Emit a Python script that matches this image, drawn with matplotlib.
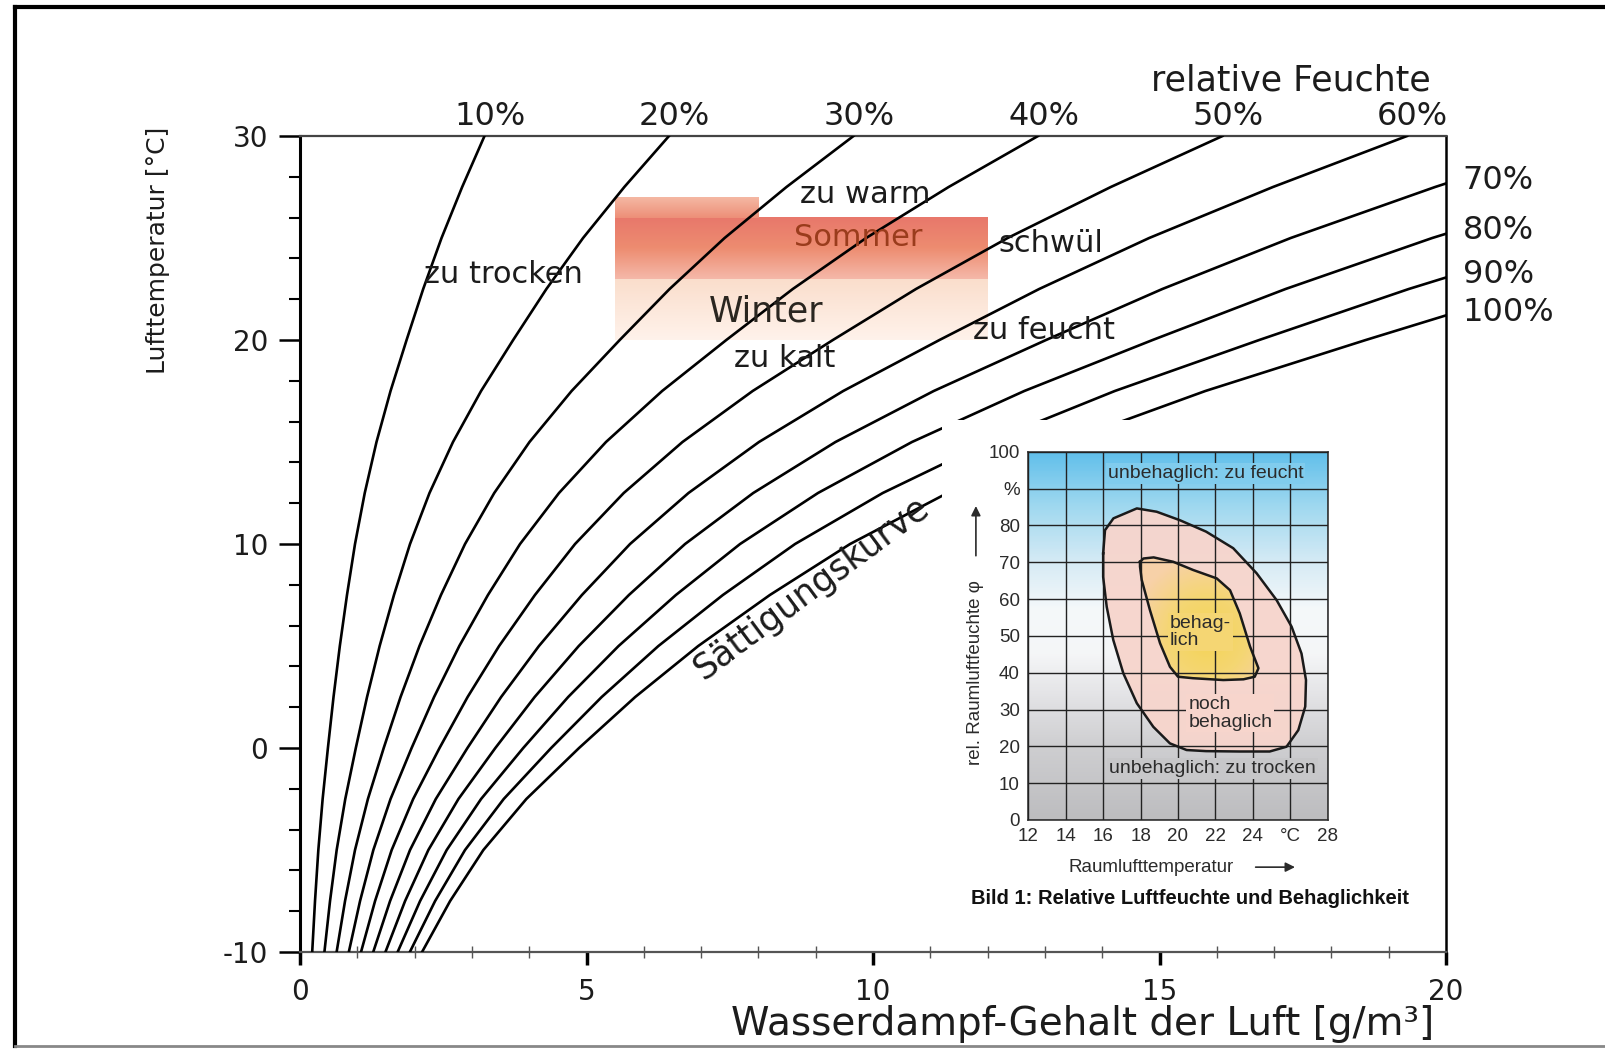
import numpy as np
import matplotlib.pyplot as plt
import matplotlib as mpl
from matplotlib.patches import Rectangle, Polygon
from matplotlib.lines import Line2D
from matplotlib.colors import LinearSegmentedColormap

mpl.rcParams["font.family"] = ["DejaVu Sans"]
mpl.rcParams["axes.unicode_minus"] = False

# --- main chart data ---
temps = [-10, -7.5, -5, -2.5, 0, 2.5, 5, 7.5, 10, 12.5, 15, 17.5, 20, 22.5, 25, 27.5, 30]
# water content at saturation (100 % curve), g/m3
sat_content = [2.13, 2.62, 3.2, 3.95, 4.87, 5.85, 6.95, 8.2, 9.6, 11.3, 13.35,
               15.8, 18.6, 21.5, 24.7, 28.3, 32.2]
rh_levels = [10, 20, 30, 40, 50, 60, 70, 80, 90, 100]
top_labels = ["10%", "20%", "30%", "40%", "50%", "60%"]
right_labels = ["70%", "80%", "90%", "100%"]

summer_x = [5.5, 12.0]
summer_T = [23.0, 26.0]
summer_peak_x = [5.5, 8.0]
summer_peak_T = [26.0, 27.0]
winter_x = [5.5, 12.0]
winter_T = [20.0, 23.0]

# --- inset data: comfort zones ---
outer_T = [16.0, 16.1, 16.55, 17.8, 18.86, 20.1, 21.5, 22.95, 24.2, 25.27, 26.07, 26.6,
           26.84, 26.8, 26.43, 25.8, 24.9, 23.3, 21.5, 20.46, 19.57, 18.68, 17.8, 17.08,
           16.54, 16.19, 16.0]
outer_phi = [72.4, 78.7, 81.9, 84.6, 83.7, 81.4, 78.3, 73.8, 67.0, 59.7, 52.5, 45.2,
             38.0, 30.8, 24.4, 19.9, 18.6, 18.6, 18.7, 19.0, 20.8, 25.3, 31.7, 39.8,
             48.9, 57.9, 66.0]
inner_T = [17.97, 18.15, 18.7, 19.75, 20.8, 22.07, 22.78, 23.3, 23.85, 24.3, 24.1, 23.5,
           22.42, 20.8, 20.0, 19.57, 19.04, 18.5, 18.06, 17.97]
inner_phi = [70.1, 71.0, 71.3, 70.1, 67.9, 65.6, 62.4, 56.1, 47.1, 41.2, 38.9, 38.2,
             38.0, 38.5, 38.9, 41.6, 48.0, 57.0, 65.2, 68.8]
inset_xticks = [12, 14, 16, 18, 20, 22, 24, 26, 28]
inset_xlabels = ["12", "14", "16", "18", "20", "22", "24", "°C", "28"]
inset_yticks = [0, 10, 20, 30, 40, 50, 60, 70, 80, 90, 100]
inset_ylabels = ["0", "10", "20", "30", "40", "50", "60", "70", "80", "%", "100"]

W, H = 1605, 1049
fig = plt.figure(figsize=(W / 100, H / 100), dpi=100, facecolor="white")
ax = fig.add_axes([300 / W, 1 - 952 / H, (1446 - 300) / W, (952 - 136) / H])

temps_a = np.array(temps)
sat_a = np.array(sat_content)
ink = "#1c1c1c"

# comfort boxes Sommer / Winter
summer_cmap = LinearSegmentedColormap.from_list(
    "summer", [(0.96, 0.72, 0.66), (0.93, 0.55, 0.44), (0.91, 0.47, 0.42)])
peak_cmap = LinearSegmentedColormap.from_list(
    "peak", [(0.93, 0.56, 0.47), (0.96, 0.72, 0.64)])
winter_cmap = LinearSegmentedColormap.from_list(
    "winter", [(1.0, 0.95, 0.92), (0.98, 0.87, 0.80)])
grad = np.linspace(0, 1, 64).reshape(-1, 1)
ax.imshow(grad, cmap=winter_cmap, extent=[*winter_x, *winter_T], origin="lower",
          aspect="auto", zorder=1)
ax.imshow(grad, cmap=summer_cmap, extent=[*summer_x, *summer_T], origin="lower",
          aspect="auto", zorder=1)
ax.imshow(grad, cmap=peak_cmap, extent=[*summer_peak_x, *summer_peak_T], origin="lower",
          aspect="auto", zorder=1)

# relative humidity curves
for rh in rh_levels:
    ax.plot(rh / 100 * sat_a, temps_a, color="black", lw=1.9, zorder=3)

ax.set_xlim(0, 20)
ax.set_ylim(-10, 30)
ax.set_xticks([0, 5, 10, 15, 20])
ax.set_xticks(np.arange(0, 21, 1), minor=True)
ax.set_yticks([-10, 0, 10, 20, 30])
ax.set_yticks(np.arange(-10, 31, 2), minor=True)
ax.tick_params(axis="y", which="major", direction="out", length=15, width=1.8,
               pad=8, labelsize=20, labelcolor=ink)
ax.tick_params(axis="y", which="minor", direction="out", length=8, width=1.5)
ax.tick_params(axis="x", which="major", direction="out", length=9, width=2.5,
               pad=10, labelsize=20, labelcolor=ink)
ax.tick_params(axis="x", which="minor", direction="inout", length=8, width=1.0,
               color="#555555")
ax.spines["left"].set_linewidth(2.2)
ax.spines["right"].set_linewidth(1.8)
ax.spines["top"].set_linewidth(1.6)
ax.spines["top"].set_color("#444444")
ax.spines["bottom"].set_linewidth(1.6)
ax.spines["bottom"].set_color("#555555")

# labels of the curves
for lab, rh in zip(top_labels, rh_levels[:6]):
    ax.annotate(lab, xy=(rh / 100 * sat_a[-1] + 0.1, 30), xytext=(0, 14),
                textcoords="offset points", ha="center", va="center",
                fontsize=23, color=ink, annotation_clip=False)
for lab, rh in zip(right_labels, rh_levels[6:]):
    t_edge = np.interp(20, rh / 100 * sat_a, temps_a)
    ax.annotate(lab, xy=(20, t_edge), xytext=(12, 2), textcoords="offset points",
                ha="left", va="center", fontsize=23, color=ink, annotation_clip=False)
ax.annotate("relative Feuchte", xy=(17.3, 30), xytext=(0, 40), textcoords="offset points",
            ha="center", va="center", fontsize=25, color=ink, annotation_clip=False)

tkw = dict(fontsize=22, color=ink, zorder=4)
ax.text(9.86, 27.15, "zu warm", ha="center", va="center", **tkw)
ax.text(9.74, 25.0, "Sommer", ha="center", va="center", fontsize=22,
        color="#9a3c1c", zorder=4)
ax.text(12.18, 24.73, "schwül", ha="left", va="center", **tkw)
ax.text(3.55, 23.22, "zu trocken", ha="center", va="center", **tkw)
ax.text(8.13, 21.41, "Winter", ha="center", va="center", fontsize=25,
        color="#2a2620", zorder=4)
ax.text(12.98, 20.46, "zu feucht", ha="center", va="center", **tkw)
ax.text(8.46, 19.1, "zu kalt", ha="center", va="center", **tkw)
ax.text(7.05, 3.3, "Sättigungskurve", rotation=36.5, rotation_mode="anchor",
        ha="left", va="baseline", fontsize=25, color=ink, zorder=4)

fig.text(158 / W, 1 - 250 / H, "Lufttemperatur [°C]", rotation=90, ha="center",
         va="center", fontsize=18, color=ink,
         family=["Liberation Sans Narrow", "DejaVu Sans"])
fig.text(1083 / W, 1 - 1024 / H, "Wasserdampf-Gehalt der Luft [g/m³]", ha="center",
         va="center", fontsize=28, color=ink)

# scan frame
fig.add_artist(Line2D([15 / W, 15 / W], [1 - 7 / H, 1 - 1046 / H],
                      transform=fig.transFigure, color="black", lw=3))
fig.add_artist(Line2D([15 / W, 1], [1 - 7 / H, 1 - 7 / H],
                      transform=fig.transFigure, color="black", lw=3))
fig.add_artist(Line2D([15 / W, 1], [1 - 1046 / H, 1 - 1046 / H],
                      transform=fig.transFigure, color="#888888", lw=2))

# --- inset picture ---
fig.add_artist(Rectangle((942 / W, 1 - 931 / H), (1443 - 942) / W, (931 - 420) / H,
                         transform=fig.transFigure, facecolor="white",
                         edgecolor="none", zorder=1))
ins = fig.add_axes([1028.3 / W, 1 - 820 / H, 299.4 / W, 368.3 / H])
ins.set_zorder(2)
ifont = ["Liberation Sans", "DejaVu Sans"]
igray = "#2b2b2b"

bg_stops = [(0.00, (0.74, 0.74, 0.75)), (0.20, (0.81, 0.81, 0.82)),
            (0.35, (0.90, 0.90, 0.91)), (0.45, (0.96, 0.965, 0.97)),
            (0.57, (0.96, 0.975, 0.98)), (0.70, (0.84, 0.92, 0.96)),
            (0.85, (0.63, 0.85, 0.94)), (1.00, (0.38, 0.75, 0.92))]
bg_cmap = LinearSegmentedColormap.from_list("bg", bg_stops)
ins.imshow(np.linspace(0, 1, 200).reshape(-1, 1), cmap=bg_cmap, extent=[12, 28, 0, 100],
           origin="lower", aspect="auto", zorder=0)
ins.fill(outer_T, outer_phi, color="#f7d5cc", alpha=0.95, lw=0, zorder=1)

inner_poly = Polygon(np.column_stack([inner_T, inner_phi]), closed=True,
                     facecolor="none", edgecolor="none")
ins.add_patch(inner_poly)
gx, gy = np.meshgrid(np.linspace(17.5, 24.5, 120), np.linspace(37, 72, 120))
rad = np.sqrt(((gx - 21.6) / 3.2) ** 2 + ((gy - 50) / 17) ** 2)
yel_cmap = LinearSegmentedColormap.from_list(
    "yel", [(0.96, 0.83, 0.33), (0.96, 0.84, 0.45), (0.97, 0.82, 0.66)])
im = ins.imshow(rad, cmap=yel_cmap, vmin=0, vmax=1.3, extent=[17.5, 24.5, 37, 72],
                origin="lower", aspect="auto", zorder=1.5)
im.set_clip_path(inner_poly)

ins.plot(outer_T + outer_T[:1], outer_phi + outer_phi[:1], color="#1a1a1a", lw=1.8, zorder=3)
ins.plot(inner_T + inner_T[:1], inner_phi + inner_phi[:1], color="#1a1a1a", lw=1.8, zorder=3)

ins.set_xlim(12, 28)
ins.set_ylim(0, 100)
ins.set_xticks(inset_xticks)
ins.set_xticklabels(inset_xlabels, family=ifont)
ins.set_yticks(inset_yticks)
ins.set_yticklabels(inset_ylabels, family=ifont)
ins.set_axisbelow(False)
ins.grid(True, color="#222222", lw=1.0)
ins.tick_params(length=0, labelsize=13.5, labelcolor=igray, pad=6)
for s in ins.spines.values():
    s.set_linewidth(1.2)
    s.set_color("#333333")

ikw = dict(fontsize=14, color=igray, family=ifont, zorder=4)
ins.text(21.48, 94.1, "unbehaglich: zu feucht", ha="center", va="center",
         bbox=dict(boxstyle="square,pad=0.1", fc=(0.50, 0.80, 0.93), ec="none"), **ikw)
ins.text(19.57, 51.0, "behag-\nlich", ha="left", va="center", linespacing=1.0,
         bbox=dict(boxstyle="square,pad=0.1", fc=(0.96, 0.84, 0.45), ec="none"), **ikw)
ins.text(20.55, 29.0, "noch\nbehaglich", ha="left", va="center", linespacing=1.05,
         bbox=dict(boxstyle="square,pad=0.1", fc="#f7d5cc", ec="none"), **ikw)
ins.text(21.83, 14.0, "unbehaglich: zu trocken", ha="center", va="center",
         bbox=dict(boxstyle="square,pad=0.1", fc=(0.78, 0.78, 0.79), ec="none"), **ikw)

ins.text(-0.175, 0.40, "rel. Raumluftfeuchte φ", transform=ins.transAxes, rotation=90,
         ha="center", va="center", fontsize=13.5, color=igray, family=ifont)
ins.annotate("", xy=(-0.175, 0.86), xytext=(-0.175, 0.71), xycoords="axes fraction",
             arrowprops=dict(arrowstyle="-|>", color=igray, lw=1.2, mutation_scale=14),
             annotation_clip=False)
ins.text(0.41, -0.128, "Raumlufttemperatur", transform=ins.transAxes, ha="center",
         va="center", fontsize=13.5, color=igray, family=ifont)
ins.annotate("", xy=(0.90, -0.128), xytext=(0.75, -0.128), xycoords="axes fraction",
             arrowprops=dict(arrowstyle="-|>", color=igray, lw=1.2, mutation_scale=14),
             annotation_clip=False)
ins.text(0.54, -0.212, "Bild 1: Relative Luftfeuchte und Behaglichkeit",
         transform=ins.transAxes, ha="center", va="center", fontsize=14.5,
         fontweight="bold", color="#111111", family=ifont)

fig.savefig("out.png", dpi=100, facecolor="white")
